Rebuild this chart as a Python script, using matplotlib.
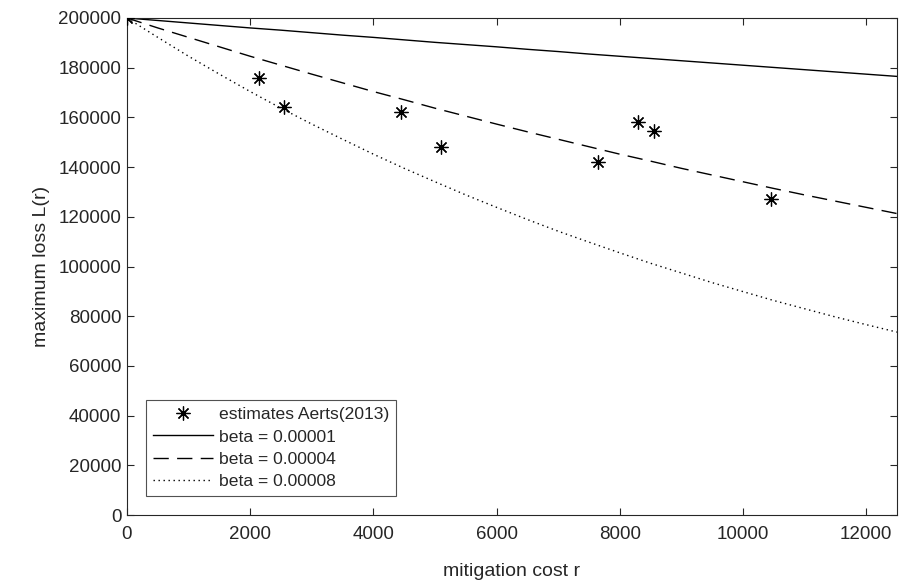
import matplotlib
matplotlib.use("Agg")
import matplotlib.pyplot as plt

plt.rcParams['font.family'] = ['Liberation Sans', 'DejaVu Sans']

# estimates Aerts (2013)
est_r = [0, 2150, 2550, 4450, 5100, 7650, 8300, 8550, 10450]
est_L = [200000, 176000, 164000, 162000, 148000, 142000, 158000, 154500, 127000]

# curves
r_grid = [0, 500, 1000, 1500, 2000, 2500, 3000, 3500, 4000, 4500, 5000, 5500, 6000,
          6500, 7000, 7500, 8000, 8500, 9000, 9500, 10000, 10500, 11000, 11500, 12000, 12500]
L_b1 = [200000, 199000, 198000, 197000, 196000, 195100, 194100, 193100, 192200, 191200,
        190200, 189300, 188400, 187400, 186500, 185500, 184600, 183700, 182800, 181900,
        181000, 180100, 179200, 178300, 177400, 176500]
L_b4 = [200000, 196000, 192200, 188400, 184600, 181000, 177400, 173900, 170400, 167100,
        163700, 160500, 157300, 154200, 151200, 148200, 145200, 142400, 139500, 136800,
        134100, 131400, 128800, 126300, 123800, 121300]
L_b8 = [200000, 192200, 184600, 177400, 170400, 163700, 157300, 151200, 145200, 139500,
        134100, 128800, 123800, 118900, 114200, 109800, 105500, 101300, 97400, 93500,
        89900, 86300, 83000, 79700, 76600, 73600]

labels = ['estimates Aerts(2013)', 'beta = 0.00001', 'beta = 0.00004', 'beta = 0.00008']
xticks = [0, 2000, 4000, 6000, 8000, 10000, 12000]
yticks = [0, 20000, 40000, 60000, 80000, 100000, 120000, 140000, 160000, 180000, 200000]

fig = plt.figure(figsize=(8.99, 5.84), dpi=100)
ax = fig.add_axes([127 / 899, 1 - 515 / 584, (897 - 127) / 899, (515 - 18) / 584])

ax.plot(est_r, est_L, linestyle='none', marker=(8, 2, 0), markersize=10,
        markeredgewidth=0.9, color='black', label=labels[0], zorder=5)
ax.plot(r_grid, L_b1, color='black', lw=1.0, label=labels[1])
ax.plot(r_grid, L_b4, color='black', lw=1.0, dashes=(11, 6), label=labels[2])
ax.plot(r_grid, L_b8, color='black', lw=1.0, dashes=(1, 2.6), label=labels[3])

ax.set_xlim(0, 12500)
ax.set_ylim(0, 200000)
ax.set_xticks(xticks)
ax.set_yticks(yticks)
ax.set_xticklabels([str(t) for t in xticks])
ax.set_yticklabels([str(t) for t in yticks])

tc = '#262626'
ax.tick_params(direction='in', length=5, width=0.8, top=True, right=True,
               labelsize=13.5, colors=tc)
ax.tick_params(axis='x', pad=8)
ax.tick_params(axis='y', pad=4)
for s in ax.spines.values():
    s.set_color(tc)
    s.set_linewidth(0.8)

ax.set_xlabel('mitigation cost r', fontsize=14, color=tc, labelpad=14)
ax.set_ylabel('maximum loss L(r)', fontsize=14, color=tc, labelpad=6)

leg = ax.legend(loc='lower left', bbox_to_anchor=(0.025, 0.038), fontsize=12.6,
                handlelength=3.4, frameon=True, fancybox=False, borderpad=0.4,
                labelspacing=0.4, handletextpad=0.35, borderaxespad=0)
leg.get_frame().set_edgecolor(tc)
leg.get_frame().set_linewidth(0.8)
for t in leg.get_texts():
    t.set_color(tc)

fig.savefig('out.png', dpi=100)
